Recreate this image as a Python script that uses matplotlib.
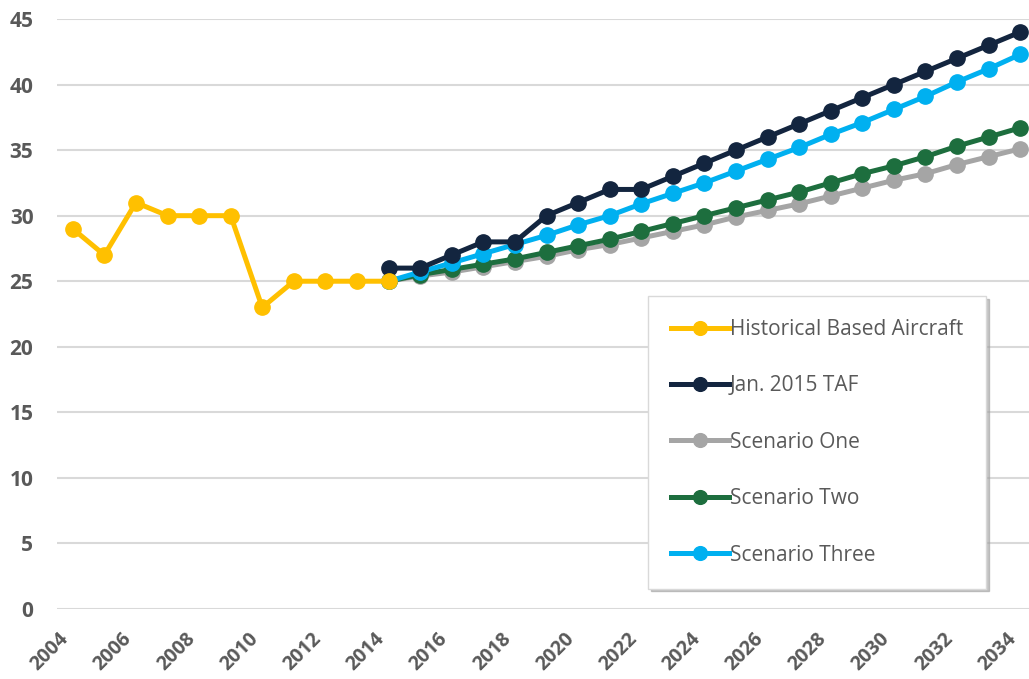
import matplotlib
matplotlib.use("Agg")
import matplotlib.pyplot as plt

# Based aircraft: history plus forecast scenarios
hist_years = list(range(2004, 2015))
hist_values = [29, 27, 31, 30, 30, 30, 23, 25, 25, 25, 25]

fcst_years = list(range(2014, 2035))
taf_values = [26, 26, 27, 28, 28, 30, 31, 32, 32, 33, 34,
              35, 36, 37, 38, 39, 40, 41, 42, 43, 44]
scen_one = [25, 25.4, 25.7, 26.1, 26.5, 26.9, 27.4, 27.8, 28.3, 28.8, 29.3,
            29.9, 30.4, 30.9, 31.5, 32.1, 32.7, 33.2, 33.9, 34.5, 35.1]
scen_two = [25, 25.5, 25.9, 26.3, 26.7, 27.2, 27.7, 28.2, 28.8, 29.4, 30.0,
            30.6, 31.2, 31.8, 32.5, 33.2, 33.8, 34.5, 35.3, 36.0, 36.7]
scen_three = [25, 25.7, 26.4, 27.1, 27.8, 28.5, 29.3, 30.0, 30.9, 31.7, 32.5,
              33.4, 34.3, 35.2, 36.2, 37.1, 38.1, 39.1, 40.2, 41.2, 42.3]

labels = ["Historical Based Aircraft", "Jan. 2015 TAF", "Scenario One",
          "Scenario Two", "Scenario Three"]
colors = ["#FFC000", "#13253F", "#A5A5A5", "#1D6E3E", "#00B0F0"]

TEXT = "#595959"
plt.rcParams["font.family"] = ["Open Sans", "DejaVu Sans"]

fig = plt.figure(figsize=(10.29, 6.79), dpi=100)
ax = fig.add_axes([57 / 1029, 70 / 679, 979 / 1029, 590 / 679])

series = [(hist_years, hist_values), (fcst_years, taf_values),
          (fcst_years, scen_one), (fcst_years, scen_two),
          (fcst_years, scen_three)]
# draw order: scenarios below the TAF, history on top of its own segment
order = [2, 3, 4, 1, 0]
handles = {}
for i in order:
    xs, ys = series[i]
    (ln,) = ax.plot(xs, ys, color=colors[i], linewidth=3.6, marker="o",
                    markersize=11, label=labels[i], solid_joinstyle="round")
    handles[i] = ln

ax.set_xlim(2003.5, 2034.5)
ax.set_ylim(0, 45)
ax.set_yticks(range(0, 46, 5))
ax.set_xticks(range(2004, 2035, 2))
ax.grid(axis="y", color="#D9D9D9", linewidth=1.5)
ax.set_axisbelow(True)
for s in ax.spines.values():
    s.set_visible(False)
ax.tick_params(length=0, colors=TEXT)
ax.tick_params(axis="y", pad=17, labelsize=15)
ax.tick_params(axis="x", pad=14, labelsize=14)
for t in ax.get_yticklabels():
    t.set_fontweight("bold")
for t in ax.get_xticklabels():
    t.set_fontweight("bold")
    t.set_rotation(45)
    t.set_ha("right")
    t.set_va("top")

leg = ax.legend([handles[i] for i in range(5)], labels,
                loc="upper left", bbox_to_anchor=(0.604, 0.5305),
                fontsize=15, frameon=True, fancybox=False,
                shadow={"color": "#A0A0A0", "alpha": 0.6},
                handlelength=2.75, handletextpad=0.05, labelspacing=1.7,
                borderpad=1.1, borderaxespad=0, markerscale=0.9)
leg.get_frame().set_edgecolor("#D9D9D9")
leg.get_frame().set_linewidth(1)
for t in leg.get_texts():
    t.set_color(TEXT)

fig.savefig("out.png", dpi=100)
